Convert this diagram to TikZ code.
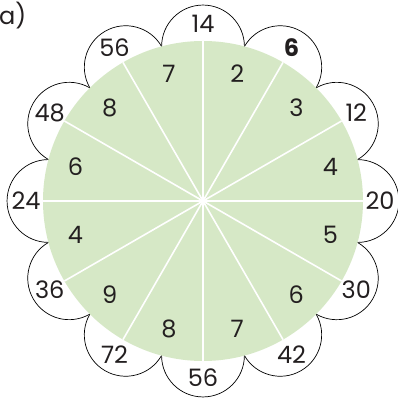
\documentclass[tikz,border=0pt]{standalone}
\usepackage{fontspec}
\setmainfont{Poppins}
\usepackage{tikz}
\usetikzlibrary{positioning, calc}
\definecolor{wheelgreen}{RGB}{214,232,198}
\definecolor{digitgrey}{RGB}{35,31,32}
\tikzstyle{petal} = [draw=black,
line width=0.7pt,
fill=white]
\tikzstyle{spoke} = [draw=white,
line width=1.6pt]
\tikzstyle{number} = [text=digitgrey,
inner sep=0pt,
font=\fontsize{24}{24}\selectfont]

\begin{document}
\begin{tikzpicture}[x=1pt, y=1pt]
                \useasboundingbox (-203,-200) rectangle (195,201);
                \coordinate (centre) at (0,0);
                \node (label) [number, anchor=base west] at (-204,176) {a)};

                % petals first, the green wheel covers their inner halves
                \foreach \a in {0,30,...,330} {
                    \draw [petal] (\a-15:160) arc[start angle=\a-90, end angle=\a+90, radius=41.4];
                }
                \fill [wheelgreen] (centre) circle[radius=160];

                \foreach \a in {0,30,...,330} {
                    \coordinate (rim-\a) at (\a:160);
                    \draw [spoke] (centre) -- (rim-\a);
                }

                \foreach \a/\n in {90/14, 30/12, 0/20, -30/30, -60/42, -90/56,
                        -120/72, -150/36, 180/24, 150/48, 120/56} {
                    \node (outer-\a) [number] at (\a:177) {\n};
                }
                \node (outer-60) [number, font=\fontsize{24}{24}\selectfont\bfseries] at (60:177) {6};

                \foreach \a/\n in {75/2, 45/3, 15/4, -15/5, -45/6, -75/7,
                        -105/8, -135/9, -165/4, 165/6, 135/8, 105/7} {
                    \node (inner-\a) [number] at (\a:132) {\n};
                }
            \end{tikzpicture}
\end{document}
